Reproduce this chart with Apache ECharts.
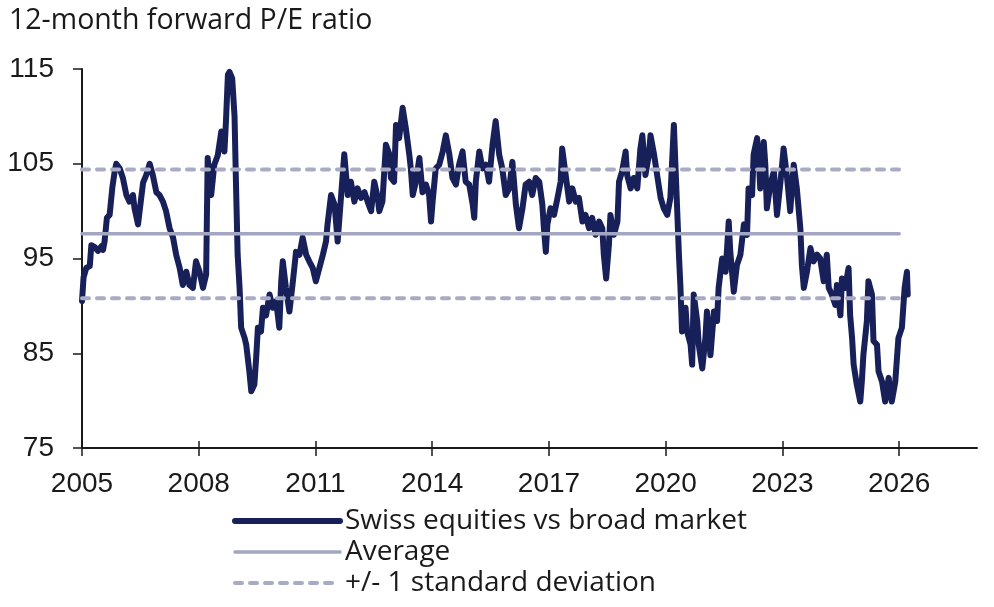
<!DOCTYPE html>
<html>
<head>
<meta charset="utf-8">
<script src="https://cdn.jsdelivr.net/npm/echarts@6/dist/echarts.min.js"></script>
<style>
  html, body { margin: 0; padding: 0; background: #fff; }
  #chart { width: 994px; height: 607px; }
</style>
</head>
<body>
<div id="chart"></div>
<script>
// weekly-ish readings of the relative forward P/E (decimal years)
const years = [
  2005.00, 2005.04, 2005.11, 2005.20, 2005.24, 2005.33, 2005.41, 2005.50, 2005.54, 2005.58,
  2005.64, 2005.71, 2005.78, 2005.84, 2005.88, 2005.97, 2006.05, 2006.14, 2006.22, 2006.31,
  2006.35, 2006.44, 2006.48, 2006.57, 2006.65, 2006.74, 2006.82, 2006.91, 2006.99, 2007.08,
  2007.16, 2007.25, 2007.34, 2007.42, 2007.51, 2007.59, 2007.68, 2007.76, 2007.85, 2007.93,
  2008.02, 2008.11, 2008.19, 2008.23, 2008.32, 2008.40, 2008.49, 2008.58, 2008.66, 2008.70,
  2008.75, 2008.79, 2008.86, 2008.92, 2008.96, 2009.00, 2009.05, 2009.09, 2009.18, 2009.22,
  2009.30, 2009.35, 2009.43, 2009.48, 2009.52, 2009.60, 2009.65, 2009.73, 2009.82, 2009.90,
  2009.99, 2010.07, 2010.12, 2010.16, 2010.24, 2010.33, 2010.42, 2010.50, 2010.59, 2010.67,
  2010.76, 2010.84, 2010.93, 2011.01, 2011.10, 2011.19, 2011.27, 2011.31, 2011.40, 2011.49,
  2011.57, 2011.66, 2011.74, 2011.83, 2011.91, 2012.00, 2012.08, 2012.17, 2012.26, 2012.34,
  2012.43, 2012.51, 2012.60, 2012.64, 2012.72, 2012.81, 2012.90, 2012.94, 2013.02, 2013.07,
  2013.15, 2013.24, 2013.32, 2013.41, 2013.45, 2013.50, 2013.58, 2013.67, 2013.75, 2013.84,
  2013.92, 2013.97, 2014.01, 2014.09, 2014.18, 2014.27, 2014.35, 2014.44, 2014.52, 2014.61,
  2014.69, 2014.78, 2014.86, 2014.95, 2015.04, 2015.08, 2015.12, 2015.21, 2015.29, 2015.38,
  2015.46, 2015.55, 2015.63, 2015.72, 2015.80, 2015.89, 2015.98, 2016.06, 2016.15, 2016.23,
  2016.32, 2016.40, 2016.49, 2016.57, 2016.66, 2016.75, 2016.83, 2016.87, 2016.92, 2016.96,
  2017.04, 2017.13, 2017.22, 2017.30, 2017.34, 2017.43, 2017.52, 2017.60, 2017.69, 2017.77,
  2017.86, 2017.94, 2018.03, 2018.11, 2018.20, 2018.29, 2018.37, 2018.41, 2018.47, 2018.54,
  2018.58, 2018.67, 2018.76, 2018.80, 2018.88, 2018.97, 2019.01, 2019.10, 2019.18, 2019.27,
  2019.35, 2019.40, 2019.48, 2019.57, 2019.61, 2019.70, 2019.78, 2019.87, 2019.95, 2020.04,
  2020.12, 2020.21, 2020.29, 2020.34, 2020.38, 2020.42, 2020.51, 2020.55, 2020.64, 2020.68,
  2020.72, 2020.81, 2020.85, 2020.94, 2021.02, 2021.06, 2021.15, 2021.24, 2021.32, 2021.36,
  2021.45, 2021.54, 2021.62, 2021.66, 2021.75, 2021.83, 2021.92, 2022.01, 2022.09, 2022.13,
  2022.22, 2022.26, 2022.35, 2022.39, 2022.43, 2022.52, 2022.56, 2022.60, 2022.69, 2022.78,
  2022.86, 2022.95, 2023.03, 2023.12, 2023.20, 2023.29, 2023.37, 2023.46, 2023.50, 2023.55,
  2023.63, 2023.72, 2023.80, 2023.89, 2023.97, 2024.06, 2024.14, 2024.19, 2024.27, 2024.36,
  2024.40, 2024.49, 2024.53, 2024.61, 2024.70, 2024.74, 2024.79, 2024.83, 2024.91, 2025.00,
  2025.04, 2025.08, 2025.17, 2025.21, 2025.30, 2025.34, 2025.43, 2025.47, 2025.56, 2025.64,
  2025.73, 2025.81, 2025.90, 2025.98, 2026.07, 2026.14, 2026.20, 2026.22
]
const swissVsBroad = [
  90.5, 93.0, 94.0, 94.2, 96.4, 96.2, 95.8, 96.3, 95.9, 96.8,
  99.3, 99.6, 102.5, 104.2, 105.0, 104.5, 103.5, 101.7, 101.0, 101.7,
  100.3, 98.6, 100.0, 103.0, 103.8, 105.0, 103.8, 102.0, 101.7, 101.0,
  100.0, 98.2, 97.2, 95.4, 94.0, 92.2, 93.6, 92.2, 91.9, 94.7,
  93.6, 91.9, 93.3, 105.6, 101.7, 104.9, 105.9, 108.4, 106.3, 109.5,
  114.4, 114.7, 114.0, 110.0, 102.4, 95.4, 91.9, 87.7, 86.6, 85.9,
  83.1, 81.0, 81.7, 84.8, 87.7, 87.3, 89.8, 89.0, 91.2, 89.8,
  90.5, 87.7, 92.6, 94.7, 91.9, 89.4, 92.6, 95.7, 95.4, 97.2,
  95.4, 94.7, 94.0, 92.6, 94.0, 95.4, 96.8, 98.6, 101.7, 100.7,
  96.8, 101.7, 106.0, 101.7, 103.1, 101.0, 102.4, 101.4, 102.0, 101.0,
  100.0, 103.1, 101.4, 100.0, 101.0, 107.0, 106.0, 103.5, 103.1, 109.1,
  107.7, 110.9, 108.8, 106.0, 104.5, 101.7, 103.1, 105.6, 102.0, 102.8,
  101.7, 98.9, 101.0, 104.5, 104.9, 106.3, 108.0, 106.0, 103.5, 102.8,
  104.9, 106.3, 103.1, 102.8, 100.7, 99.3, 103.1, 106.3, 104.5, 104.9,
  103.1, 107.0, 109.5, 106.0, 104.5, 101.7, 102.4, 105.2, 100.7, 98.2,
  100.3, 102.8, 103.1, 101.7, 103.5, 103.1, 100.7, 98.2, 95.7, 98.6,
  100.3, 99.6, 101.4, 103.1, 106.6, 103.8, 101.0, 102.4, 101.0, 101.4,
  98.9, 99.6, 98.2, 99.3, 97.5, 98.9, 98.2, 95.4, 92.9, 96.4,
  99.6, 97.5, 98.9, 103.1, 104.2, 106.3, 103.8, 102.4, 103.5, 102.4,
  106.6, 108.0, 103.8, 106.0, 108.0, 106.0, 103.8, 101.4, 100.3, 99.6,
  101.4, 109.1, 100.7, 95.4, 91.9, 87.3, 89.8, 87.3, 85.9, 83.8,
  91.2, 88.4, 85.9, 83.4, 86.6, 89.4, 84.8, 89.4, 88.4, 91.9,
  95.0, 93.6, 98.9, 95.7, 91.5, 94.3, 95.4, 98.6, 97.5, 102.4,
  101.7, 106.0, 107.7, 105.6, 102.4, 107.3, 104.9, 100.3, 102.8, 104.2,
  99.6, 103.1, 106.6, 103.5, 100.0, 104.9, 102.4, 98.2, 94.3, 91.9,
  93.6, 96.1, 94.7, 95.4, 95.0, 92.6, 95.4, 91.9, 91.2, 90.1,
  92.2, 89.0, 92.9, 91.9, 94.0, 89.0, 86.6, 83.8, 81.7, 79.9,
  82.0, 84.8, 88.4, 92.6, 91.2, 86.3, 85.9, 83.1, 82.0, 79.9,
  82.4, 79.9, 82.0, 86.6, 87.7, 91.9, 93.6, 91.2
]

// long-run average and +/- one standard deviation
const avgLevel = 97.6
const sdUpper = 104.4
const sdLower = 90.8
const avgSpan = [2005, 2026.0]
const sdSpan = [2005, 2026.15]

const xTicks = [2005, 2008, 2011, 2014, 2017, 2020, 2023, 2026]
const yTicks = [75, 85, 95, 105, 115]

const NAVY = '#18205a'
const GREY = '#a3a6c0'
const GREY_DASH = '#a9abc5'

const mainData = years.map((y, i) => [y, swissVsBroad[i]])
const flat = (span, v) => span.map(x => [x, v])

let myChart = echarts.init(document.getElementById('chart'), null, { renderer: 'canvas' })

myChart.setOption({
  animation: false,
  title: {
    text: '12-month forward P/E ratio',
    left: 9,
    top: 6,
    padding: 0,
    textStyle: {
      fontFamily: 'Open Sans',
      fontSize: 28.5,
      fontWeight: 'normal',
      color: '#1a1a1a',
    },
  },
  legend: {
    orient: 'vertical',
    left: 232,
    top: 506,
    padding: 0,
    itemWidth: 105,
    itemHeight: 14,
    itemGap: 1,
    data: ['Swiss equities vs broad market', 'Average', '+/- 1 standard deviation'],
    itemStyle: { opacity: 0 },
    lineStyle: { width: 'inherit' },
    textStyle: {
      fontFamily: 'Open Sans',
      fontSize: 28,
      color: '#1a1a1a',
      lineHeight: 30,
    },
  },
  grid: {
    left: 82,
    right: 17,
    top: 69,
    bottom: 159,
    containLabel: false,
  },
  xAxis: [
    {
      type: 'value',
      min: 2005,
      max: 2028,
      position: 'bottom',
      splitLine: { show: false },
      axisLine: { show: true, lineStyle: { color: '#1a1a1a', width: 2 } },
      axisTick: {
        show: true,
        length: 8,
        customValues: xTicks,
        lineStyle: { color: '#1a1a1a', width: 1.5 },
      },
      axisLabel: {
        customValues: xTicks,
        formatter: v => String(v),
        margin: 22,
        fontFamily: 'Liberation Sans',
        fontSize: 28,
        color: '#1a1a1a',
      },
    },
    {
      // same axis again, only to draw the upward half of the crossing ticks
      type: 'value',
      min: 2005,
      max: 2028,
      position: 'bottom',
      splitLine: { show: false },
      axisLine: { show: false },
      axisLabel: { show: false },
      axisTick: {
        show: true,
        inside: true,
        length: 7,
        customValues: xTicks,
        lineStyle: { color: '#1a1a1a', width: 1.5 },
      },
    },
  ],
  yAxis: {
    type: 'value',
    min: 75,
    max: 115,
    splitLine: { show: false },
    axisLine: { show: true, lineStyle: { color: '#1a1a1a', width: 2 } },
    axisTick: {
      show: true,
      length: 9,
      customValues: yTicks,
      lineStyle: { color: '#1a1a1a', width: 1.5 },
    },
    axisLabel: {
      customValues: yTicks,
      margin: 28,
      fontFamily: 'Liberation Sans',
      fontSize: 28,
      color: '#1a1a1a',
    },
  },
  series: [
    {
      name: 'Swiss equities vs broad market',
      type: 'line',
      data: mainData,
      symbol: 'none',
      z: 2,
      lineStyle: { color: NAVY, width: 6, join: 'round', cap: 'round' },
      itemStyle: { color: NAVY },
    },
    {
      name: 'Average',
      type: 'line',
      data: flat(avgSpan, avgLevel),
      symbol: 'none',
      z: 3,
      lineStyle: { color: GREY, width: 3.5, cap: 'round' },
      itemStyle: { color: GREY },
    },
    {
      name: '+/- 1 standard deviation',
      type: 'line',
      data: flat(sdSpan, sdUpper),
      symbol: 'none',
      z: 3,
      lineStyle: { color: GREY_DASH, width: 4, type: [7, 8], cap: 'round' },
      itemStyle: { color: GREY_DASH },
    },
    {
      name: '+/- 1 standard deviation',
      type: 'line',
      data: flat(sdSpan, sdLower),
      symbol: 'none',
      z: 3,
      lineStyle: { color: GREY_DASH, width: 4, type: [7, 8], cap: 'round' },
      itemStyle: { color: GREY_DASH },
    },
  ],
})
</script>
</body>
</html>
